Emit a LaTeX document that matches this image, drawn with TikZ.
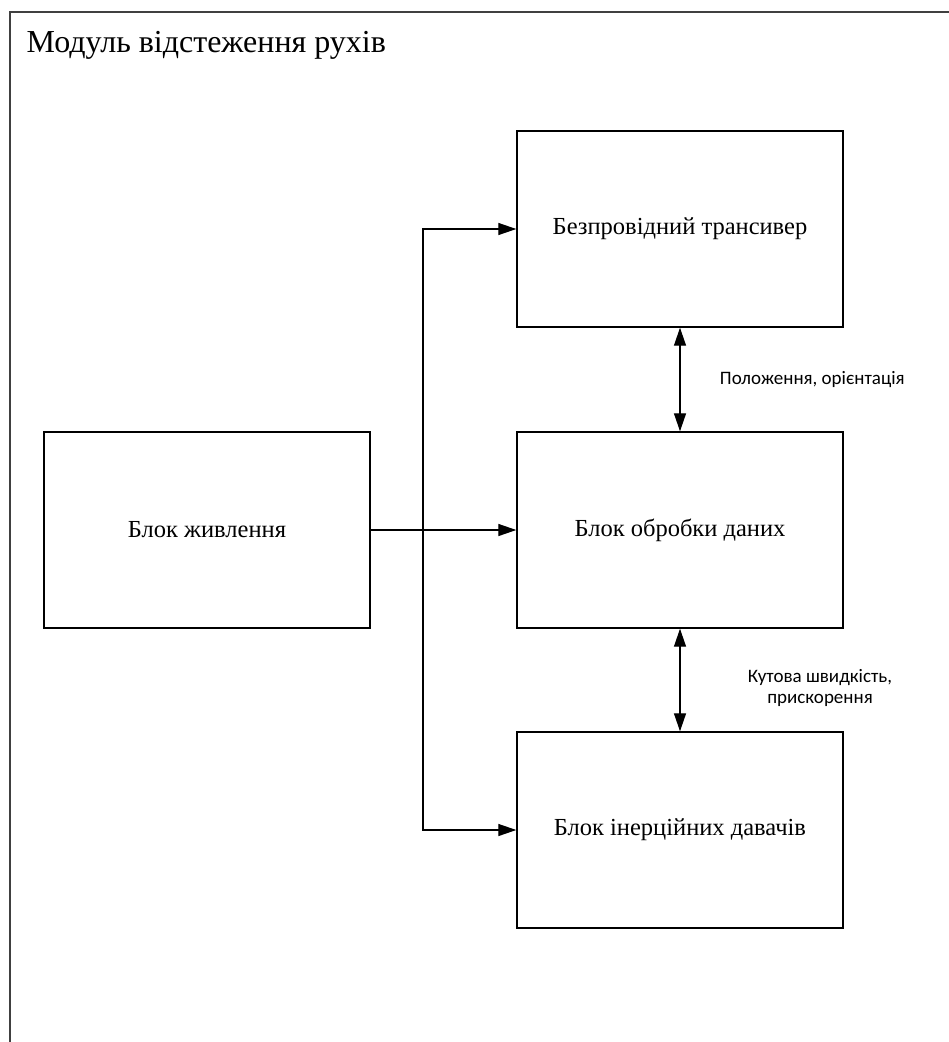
\documentclass[tikz,border=0pt]{standalone}
\usepackage{fontspec}
\setmainfont{Liberation Serif}
\newfontfamily\labelfont{Carlito}
\usetikzlibrary{arrows.meta,positioning}

\begin{document}
\begin{tikzpicture}[x=1pt,y=-1pt,line width=1.3pt,
  >={Triangle[length=18pt,width=12pt]},
  blok/.style={draw,line width=1.4pt,minimum width=326pt,minimum height=196pt,
    font=\fontsize{24.5}{29}\selectfont},
  lbl/.style={font=\labelfont\fontsize{19}{21}\selectfont,align=center}]
\useasboundingbox (0,0) rectangle (949,1042);
% frame of the module
\draw[line width=1.8pt,black!75] (949,12) -- (10,12) -- (10,1042);
\node[anchor=base west,inner sep=0pt,font=\fontsize{32}{38}\selectfont] (title) at (26,52) {Модуль відстеження рухів};
% blocks
\node[blok] (trx) at (680,229) {Безпровідний трансивер};
\node[blok] (cpu) at (680,530) {Блок обробки даних};
\node[blok] (imu) at (680,830) {Блок інерційних давачів};
\node[blok] (pwr) at (207,530) {Блок живлення};
% power lines
\coordinate (split) at (423,530);
\draw[->] (pwr.east) -- (cpu.west);
\draw[->] (split) |- (trx.west);
\draw[->] (split) |- (imu.west);
% data lines
\draw[<->] (trx.south) -- (cpu.north);
\draw[<->] (cpu.south) -- (imu.north);
\node[lbl,anchor=west] (lblpos) at (716,380) {Положення, орієнтація};
\node[lbl] (lblang) at (820,688) {Кутова швидкість,\\прискорення};
\end{tikzpicture}
\end{document}
